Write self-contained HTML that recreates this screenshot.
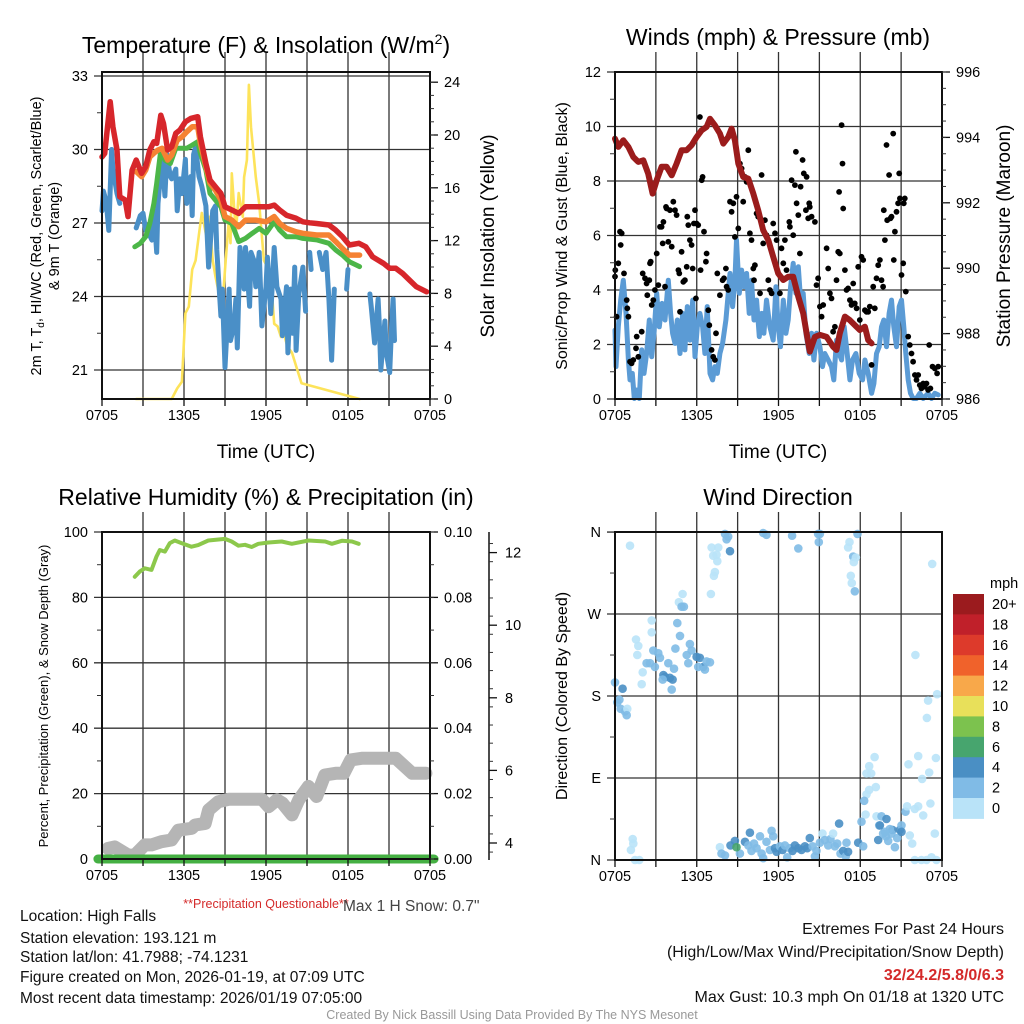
<!DOCTYPE html>
<html><head><meta charset="utf-8"><style>
html,body{margin:0;padding:0;background:#fff;}
svg{display:block;font-family:"Liberation Sans",Arial,sans-serif;}
</style></head><body>
<svg id="fig" width="1024" height="1024" viewBox="0 0 1024 1024" xmlns="http://www.w3.org/2000/svg">
<rect width="1024" height="1024" fill="#fff"/>
<g id="layer-grid"></g>
<g id="layer-data"></g>
<g id="layer-axes"></g>
<!-- titles -->
<text x="266" y="53" font-size="23" text-anchor="middle">Temperature (F) &amp; Insolation (W/m<tspan font-size="14" dy="-9">2</tspan><tspan dy="9">)</tspan></text>
<text x="778" y="45" font-size="23" text-anchor="middle">Winds (mph) &amp; Pressure (mb)</text>
<text x="266" y="505" font-size="23" text-anchor="middle">Relative Humidity (%) &amp; Precipitation (in)</text>
<text x="778" y="505" font-size="23" text-anchor="middle">Wind Direction</text>
<!-- axis titles -->
<text x="266" y="458" font-size="19" text-anchor="middle">Time (UTC)</text>
<text x="778" y="458" font-size="19" text-anchor="middle">Time (UTC)</text>
<text transform="translate(41,236) rotate(-90)" font-size="14.5" text-anchor="middle">2m T, T<tspan font-size="10" dy="3">d</tspan><tspan dy="-3">, HI/WC (Red, Green, Scarlet/Blue)</tspan></text>
<text transform="translate(59,236) rotate(-90)" font-size="14.5" text-anchor="middle">&amp; 9m T (Orange)</text>
<text transform="translate(494,236) rotate(-90)" font-size="19" text-anchor="middle">Solar Insolation (Yellow)</text>
<text transform="translate(567,236) rotate(-90)" font-size="16" text-anchor="middle">Sonic/Prop Wind &amp; Gust (Blue, Black)</text>
<text transform="translate(1010,236) rotate(-90)" font-size="19" text-anchor="middle">Station Pressure (Maroon)</text>
<text transform="translate(48,696) rotate(-90)" font-size="13" text-anchor="middle">Percent, Precipitation (Green), &amp; Snow Depth (Gray)</text>
<text transform="translate(567,696) rotate(-90)" font-size="16" text-anchor="middle">Direction (Colored By Speed)</text>
<!-- bottom text -->
<text x="266" y="908" font-size="12.5" fill="#d42a2a" text-anchor="middle">**Precipitation Questionable**</text>
<text x="343" y="911" font-size="15.5" fill="#444">Max 1 H Snow: 0.7"</text>
<g font-size="15.5" fill="#111">
<text x="20" y="921">Location: High Falls</text>
<text x="20" y="943">Station elevation: 193.121 m</text>
<text x="20" y="962">Station lat/lon: 41.7988; -74.1231</text>
<text x="20" y="982">Figure created on Mon, 2026-01-19, at 07:09 UTC</text>
<text x="20" y="1003">Most recent data timestamp: 2026/01/19 07:05:00</text>
</g>
<g font-size="16" fill="#111" text-anchor="end">
<text x="1004" y="934">Extremes For Past 24 Hours</text>
<text x="1004" y="957">(High/Low/Max Wind/Precipitation/Snow Depth)</text>
<text x="1004" y="980" fill="#d42a2a" font-weight="bold">32/24.2/5.8/0/6.3</text>
<text x="1004" y="1002">Max Gust: 10.3 mph On 01/18 at 1320 UTC</text>
</g>
<text x="512" y="1019" font-size="12.5" fill="#999" text-anchor="middle">Created By Nick Bassill Using Data Provided By The NYS Mesonet</text>
</svg>
<script>
// ---------- data ----------
const timeTickLabels = ["0705","1305","1905","0105","0705"];
const tempTicks = [21,24,27,30,33];
const insolTicks = [0,4,8,12,16,20,24];
const windTicks = [0,2,4,6,8,10,12];
const pressTicks = [986,988,990,992,994,996];
const rhTicks = [0,20,40,60,80,100];
const precipTicks = [0.00,0.02,0.04,0.06,0.08,0.10];
const snowTicks = [4,6,8,10,12];
const dirTickLabels = ["N","E","S","W","N"];
const speedBins = ["0","2","4","6","8","10","12","14","16","18","20+"];
const speedColors = ["#b9e3f8","#80bbe6","#4a8fc4","#47a56e","#7cc24e","#e8e05a","#f8a84a","#f0622b","#dd3a2b","#c0202a","#9b1b1e"];

const redHours = [0,0.2,0.6,0.8,1.1,1.3,1.7,1.9,2.2,2.5,2.9,3.2,3.5,3.8,4.0,4.3,4.5,4.8,5.1,5.4,5.7,6.1,6.5,7.0,7.2,7.6,7.9,8.3,8.7,9.0,9.5,10.0,10.5,11.25,11.7,12.2,12.6,13.0,13.5,14.2,14.7,15.2,15.7,16.6,17.1,17.6,18.1,18.8,19.3,19.8,20.6,21.05,21.5,22.0,22.5,23.0,23.75];
const redTemps = [29.7,29.84,31.95,30.93,29.98,28.07,27.94,27.26,29.16,29.57,29.03,29.3,29.98,30.32,30.25,31.4,31.06,29.98,30.11,30.66,30.79,31.13,31.27,31.34,30.52,29.43,28.75,28.48,28.21,27.66,27.53,27.39,27.66,27.66,27.66,27.66,27.73,27.53,27.32,27.19,27.05,27.01,26.98,26.92,26.71,26.44,26.1,26.17,26.03,25.62,25.35,25.15,25.15,24.94,24.67,24.4,24.19];
const orangeHours = [2.5,2.9,3.2,3.5,3.9,4.1,4.4,4.8,5.1,5.5,5.86,6.2,6.6,7.0,7.2,7.6,7.9,8.3,8.7,9.0,9.5,10.0,10.5,11.25,12.0,12.6,13.0,13.5,14.2,14.7,15.7,16.6,17.1,17.6,18.1,18.85];
const orangeTemps = [29.1,28.89,29.16,29.7,29.9,29.98,30.05,29.57,29.77,30.38,30.52,30.72,30.93,30.93,30.25,29.3,28.62,28.34,27.94,27.26,27.12,26.85,27.12,27.12,27.05,27.26,26.98,26.78,26.64,26.58,26.51,26.51,26.24,25.96,25.69,25.69];
const greenHours = [2.4,2.8,3.2,3.5,3.8,4.0,4.3,4.6,5.0,5.4,5.86,6.2,6.6,7.0,7.2,7.6,7.9,8.3,8.7,9.0,9.5,10.0,10.5,11.0,11.5,12.0,12.6,13.0,13.5,14.2,14.7,15.7,16.6,17.1,17.6,18.1,18.85];
const greenTemps = [26.03,26.17,26.44,26.98,27.8,28.62,29.98,29.57,29.43,30.05,30.05,30.05,30.18,30.32,29.84,29.16,28.21,27.94,27.66,27.12,26.98,26.24,26.37,26.58,26.78,26.58,27.05,26.71,26.44,26.44,26.37,26.31,26.17,25.9,25.69,25.42,25.22];
const blueHours = [0.0,0.1,0.3,0.5,0.7,0.8,1.1,1.3,1.6,2.5,2.8,3.0,3.2,3.4,3.65,3.8,4.0,4.1,4.4,4.6,4.75,5.0,5.1,5.4,5.5,5.7,5.85,6.1,6.2,6.5,6.6,6.7,6.85,7.1,7.3,7.6,7.8,8.1,8.3,8.4,8.7,8.8,9.0,9.3,9.4,9.65,9.8,9.9,10.1,10.4,10.5,10.8,10.9,11.1,11.25,11.5,11.7,12.0,12.1,12.35,12.6,12.8,13.1,13.2,13.5,13.6,13.8,13.95,14.1,14.2,14.4,14.7,14.9,15.05,15.2,15.3,15.6,15.9,16.15,16.4,16.6,16.8,17.0,17.5,17.9,18.0,18.8,19.6,19.7,19.95,20.2,20.3,20.4,20.7,20.8,21.05,21.2,21.3,21.4];
const blueTemps = [27.5,28.3,27.9,26.7,30.0,29.2,28.2,27.8,null,26.8,27.3,27.4,26.7,26.6,26.3,27.5,25.8,27.8,29.7,28.1,29.8,28.9,28.8,29.2,27.5,28.8,28.2,29.6,27.8,28.9,27.3,29.8,30.1,28.9,28.5,27.7,25.2,27.5,27.7,25.9,23.2,24.3,21.1,24.3,22.2,22.8,23.9,21.9,26.0,24.3,26.0,23.6,25.8,25.5,24.4,25.8,22.8,24.4,25.6,23.3,26.0,24.4,23.9,22.4,24.4,21.7,24.3,22.5,25.2,21.8,24.1,25.2,23.4,null,25.8,25.1,null,25.8,25.1,25.8,23.9,21.4,24.3,null,24.3,25.1,null,24.1,23.6,22.1,23.9,22.8,21.0,23.0,21.7,20.9,22.9,23.9,22.2];
const solarHours = [2.5,5.1,5.5,5.85,6.1,6.35,6.6,6.85,7.1,7.3,7.6,7.85,8.1,8.3,8.55,8.8,9.05,9.3,9.4,9.5,9.8,10.0,10.3,10.4,10.6,10.75,10.9,11.25,11.5,11.85,12.1,12.35,12.6,12.85,13.1,13.3,13.55,13.9,14.2,14.6,18.85];
const solarValues = [0,0,0.8,1.3,6.5,7.0,9.8,10.5,12.5,14.1,12.5,13.8,10.5,9.3,8.0,7.0,10.5,13.8,11.8,17.1,12.5,15.6,13.8,16.8,18.1,23.8,20.6,16.8,14.8,10.5,10.0,9.3,5.7,5.5,4.7,5.0,4.0,3.5,2.5,1.2,0];

const pressHours = [0,0.24,0.61,0.98,1.34,1.71,2.08,2.44,2.76,3.06,3.42,3.79,4.16,4.52,4.89,5.26,5.62,5.99,6.36,6.72,6.97,7.33,7.70,7.95,8.31,8.56,8.80,9.05,9.41,9.78,10.15,10.51,10.88,11.25,11.61,11.98,12.35,12.71,13.08,13.45,13.81,14.06,14.30,14.67,15.04,15.53,16.01,16.26,16.50,16.87,17.24,17.60,17.97,18.34,18.58,18.83];
const pressValues = [993.96,993.71,993.91,993.71,993.40,993.25,993.30,992.89,992.28,992.69,993.10,993.10,992.84,993.20,993.61,993.61,993.76,994.01,994.22,994.32,994.57,994.37,994.12,993.81,994.01,994.27,993.91,993.20,992.79,992.74,992.28,991.77,991.16,990.86,990.35,989.84,989.64,989.74,989.74,989.13,988.62,988.01,987.45,987.90,987.96,987.90,987.60,987.50,988.01,988.52,988.41,988.26,988.11,988.21,987.80,987.70];
const windHours = [0,0.07,0.24,0.42,0.61,0.81,0.98,1.10,1.27,1.42,1.59,1.78,1.96,2.13,2.32,2.52,2.69,2.86,3.06,3.25,3.45,3.67,3.91,4.08,4.23,4.40,4.57,4.77,4.96,5.13,5.31,5.50,5.70,5.87,6.04,6.23,6.43,6.60,6.77,6.97,7.16,7.33,7.51,7.70,7.90,8.14,8.44,8.63,8.80,8.92,9.12,9.29,9.46,9.66,9.85,10.02,10.20,10.39,10.59,10.76,10.93,11.12,11.37,11.61,11.81,11.98,12.15,12.35,12.54,12.71,12.89,13.08,13.28,13.45,13.62,13.81,14.01,14.25,14.43,14.60,14.79,15.04,15.23,15.40,15.65,15.89,16.06,16.26,16.45,16.63,16.82,17.04,17.24,17.43,17.68,17.92,18.17,18.34,18.58,18.83,19.00,19.19,19.39,19.56,19.73,19.93,20.12,20.29,20.46,20.66,20.86,21.03,21.20,21.34,21.52,21.69,21.88,22.13,22.37,22.62,22.98,23.23,23.47,23.72];
const windValues = [2.53,1.19,2.65,3.63,4.36,3.14,1.43,0.70,0.94,0.02,0.33,0.02,1.80,0.94,1.67,2.90,1.55,2.41,3.88,2.65,3.51,2.90,4.36,3.14,2.41,2.04,2.90,1.67,3.14,1.80,3.39,2.16,3.63,1.55,2.65,3.14,2.65,1.67,3.39,0.94,0.70,1.19,0.94,1.67,2.04,2.90,4.61,3.39,4.36,5.83,3.88,4.73,4.12,4.61,3.14,4.36,2.90,3.63,2.29,3.14,2.41,3.63,2.65,2.16,4.12,2.65,1.92,3.63,2.41,2.90,4.12,4.98,3.88,4.85,3.63,3.88,2.41,1.67,2.41,1.43,2.41,1.92,1.19,1.67,1.43,1.19,0.70,2.16,1.67,1.43,2.65,1.67,0.70,1.43,1.67,0.94,0.70,1.43,0.94,0.21,0.57,1.67,1.92,2.65,2.90,1.92,3.14,3.63,2.65,1.92,3.39,3.63,2.65,1.67,0.70,0.21,0.02,0.02,0.21,0.02,0.21,0.02,0.21,0.15];
const gustHours = [0,0.02,0.12,0.24,0.37,0.49,0.42,0.66,0.86,0.90,0.98,1.10,1.22,1.34,1.54,1.59,1.71,1.96,2.03,2.20,2.32,2.37,2.52,2.57,2.62,2.69,2.81,2.93,3.06,3.18,3.30,3.42,3.55,3.50,3.67,3.74,3.79,3.91,4.03,4.16,4.28,4.40,4.52,4.65,4.72,4.77,4.89,5.01,5.13,5.26,5.31,5.38,5.50,5.62,5.70,5.79,5.87,5.94,5.99,6.11,6.23,6.28,6.36,6.43,6.53,6.67,6.72,6.85,6.92,7.09,7.21,7.33,7.41,7.51,7.70,7.90,8.00,8.14,8.19,8.31,8.44,8.56,8.68,8.80,8.92,9.05,9.17,9.29,9.41,9.54,9.66,9.78,9.90,10.02,10.15,10.20,10.27,10.39,10.51,10.64,10.76,10.88,11.00,11.12,11.25,11.37,11.49,11.61,11.74,11.86,12.10,12.22,12.35,12.47,12.59,12.79,12.84,12.96,13.08,13.20,13.28,13.33,13.45,13.57,13.62,13.77,13.86,14.01,14.06,14.18,14.25,14.30,14.43,14.67,14.79,14.91,15.04,15.16,15.28,15.53,15.65,15.77,15.89,16.01,16.14,16.26,16.38,16.45,16.50,16.63,16.70,16.75,16.87,16.99,17.11,17.24,17.36,17.43,17.48,17.60,17.73,17.85,17.97,18.09,18.22,18.34,18.46,18.58,18.70,18.83,18.95,19.07,19.19,19.32,19.44,19.56,19.68,19.73,19.81,19.93,19.98,20.12,20.22,20.29,20.42,20.46,20.54,20.66,20.78,20.86,20.91,21.03,21.15,21.20,21.27,21.34,21.52,21.64,21.76,21.88,22.01,22.13,22.25,22.37,22.49,22.62,22.74,22.86,22.98,23.06,23.15,23.30,23.47,23.64,23.72];
const gustValues = [4.49,4.73,3.02,4.98,6.14,6.08,5.65,4.61,3.63,3.33,3.02,1.37,1.31,1.43,1.86,2.29,1.55,2.47,4.61,4.43,4.24,3.81,4.36,4.98,5.04,3.45,3.63,4.00,5.34,4.18,6.32,6.32,6.50,5.71,4.12,7.05,6.99,5.77,6.93,5.59,7.24,6.93,6.75,4.73,4.61,3.20,5.40,4.30,4.36,4.85,6.69,6.38,5.83,5.65,4.79,6.44,6.93,3.69,6.44,6.38,10.35,4.73,8.03,8.15,6.14,5.04,5.34,3.26,2.71,1.80,1.55,1.43,2.41,4.61,3.81,4.36,4.43,4.79,4.12,4.00,7.24,6.87,7.18,5.95,7.42,6.26,8.64,8.46,7.24,8.15,7.97,9.13,6.08,5.83,4.79,4.36,4.91,6.81,6.69,3.88,8.22,5.71,6.56,6.01,4.36,4.00,3.88,6.44,6.08,5.83,3.88,5.53,4.98,5.83,4.73,6.50,6.32,8.03,6.01,7.85,9.07,7.18,6.75,5.34,7.79,8.77,8.28,6.93,8.15,6.63,7.18,7.05,6.69,6.50,4.18,4.43,3.39,3.02,3.45,5.53,4.79,3.88,3.69,2.47,2.65,4.36,5.40,7.60,5.34,10.05,8.64,6.99,4.73,4.00,4.06,3.63,3.45,3.51,4.24,3.51,3.33,4.85,2.90,5.22,5.10,3.26,3.20,3.20,3.39,1.25,4.12,3.33,4.43,4.91,5.10,4.36,4.12,6.93,5.83,9.32,6.56,8.22,6.63,6.69,9.74,5.10,6.14,6.87,7.18,8.28,7.36,4.55,4.98,7.18,7.36,3.94,2.29,1.98,1.67,1.37,0.88,0.70,0.88,0.51,0.39,0.57,0.45,0.57,0.33,1.98,0.39,1.19,1.12,0.94,1.19];

const rhHours = [2.40,2.76,3.13,3.62,3.99,4.23,4.60,4.96,5.33,5.82,6.55,7.04,7.78,9.0,9.49,9.98,10.46,10.95,11.44,12.18,13.15,13.89,15.11,16.33,16.82,17.55,18.29,18.78];
const rhValues = [86.3,87.9,88.9,88.4,92.5,94.5,94.0,96.6,97.4,96.6,95.5,96.0,97.4,97.9,97.1,95.8,96.1,95.4,96.4,96.8,97.1,96.4,97.4,97.1,96.4,97.3,97.1,96.4];
const snowHours = [0.44,0.93,1.91,2.40,3.13,3.62,4.35,5.09,5.58,6.57,6.81,7.55,7.8,8.5,9.3,11.7,12.2,12.8,13.2,13.9,14.4,15.1,15.7,16.3,17.1,17.7,18.2,19.0,21.5,22.7,23.7];
const snowValues = [3.2,3.7,1.2,1.2,4.3,4.3,5.3,5.8,8.8,9.4,10.4,10.9,15.0,17.5,18.3,18.3,16.0,18.1,17.1,13.5,18.1,22.2,19.1,25.7,26.2,26.2,30.3,30.8,30.8,26.2,26.2];
const precipHours = [-0.3,24.3];
const precipValues = [0,0];

const dirHours = [1.10,0.0,0.56,0.32,0.17,0.42,0.73,0.90,0.86,1.54,1.71,1.64,2.69,2.69,1.96,2.03,2.32,2.81,3.18,2.93,2.57,3.30,3.55,3.67,4.03,4.23,3.91,4.16,3.50,4.33,4.43,4.57,4.77,4.69,4.96,4.89,5.06,5.26,5.38,5.50,5.62,5.99,6.23,6.48,6.72,6.60,6.11,6.97,7.04,7.26,7.33,7.21,7.51,7.46,7.09,7.58,8.07,8.31,8.19,8.44,10.88,11.12,13.0,13.45,14.91,15.04,14.96,17.8,17.21,17.11,17.48,17.68,17.53,17.31,17.38,17.60,23.28,22.05,23.64,22.98,22.89,22.25,23.55,21.54,23.06,22.54,19.05,18.66,18.80,18.46,19.14,18.66,18.46,18.29,18.39,18.09,19.19,19.56,19.93,19.39,20.37,20.90,21.32,21.44,22.25,22.0,22.62,23.15,21.03,21.64,21.81,23.47,1.30,1.34,1.17,1.47,1.78,22.0,22.49,22.86,23.23,23.59,7.70,7.82,8.07,8.48,8.80,9.17,9.54,9.78,9.90,10.02,10.20,10.39,10.64,10.76,10.88,11.12,11.37,11.49,11.61,11.74,11.86,12.10,12.30,12.47,12.64,12.84,13.03,13.20,13.45,13.69,13.94,14.11,14.30,14.50,14.67,14.79,15.04,15.23,15.40,15.65,15.82,16.01,16.14,16.31,16.45,16.55,16.75,16.94,16.99,17.11,17.85,18.22,19.32,19.68,19.88,20.05,20.29,20.54,20.71,21.03,20.17,19.80,19.44,8.92];
const dirDegrees = [345,195,188,176,173,166,163,166,159,242,235,225,263,250,193,206,216,230,227,212,216,222,203,201,200,198,216,187,198,210,232,260,246,283,292,278,278,225,216,237,230,223,222,212,218,209,212,217,292,312,316,334,328,335,343,343,358,355,352,339,359,357,356,342,358,358,349,358,349,343,333,332,327,312,304,295,325,225,182,175,156,114,112,105,96,89,113,103,95,95,80,77,72,65,50,42,48,48,45,38,33,33,53,59,59,56,49,62,38,27,18,29,23,18,11,0,0,0,0,0,3,0,14,7,5,16,21,7,20,16,30,10,18,13,26,7,2,20,11,32,26,13,9,15,11,16,3,13,10,16,13,11,15,13,24,15,4,10,19,29,22,16,23,29,15,18,40,7,10,4,19,9,19,15,22,29,26,21,29,14,24,31,34,31,38,14];
const dirSpeeds = [1,3,5,3,3,3,3,1,3,1,1,1,1,1,1,1,3,3,3,3,3,3,5,5,5,5,3,3,3,3,3,3,3,1,1,3,3,3,3,3,3,5,5,5,3,3,3,3,1,1,1,1,1,1,1,1,3,3,3,5,3,3,3,3,3,3,3,3,1,1,3,1,1,1,1,3,1,1,1,1,1,1,1,1,1,1,1,1,1,1,1,1,1,3,1,3,1,3,5,3,5,5,3,1,1,1,1,1,3,1,1,1,1,1,1,1,1,1,1,1,1,1,1,3,3,5,5,3,5,3,5,3,3,3,3,3,3,3,3,3,3,5,5,3,5,3,3,3,5,5,5,5,5,5,5,3,3,3,3,1,3,3,3,1,3,3,5,3,5,3,3,5,5,3,5,3,3,3,3,3,3,5,3,3,5,7];

// ---------- helpers ----------
const NS = "http://www.w3.org/2000/svg";
const gGrid = document.getElementById("layer-grid");
const gData = document.getElementById("layer-data");
const gAxes = document.getElementById("layer-axes");
function mk(tag, attrs, parent){ const e=document.createElementNS(NS,tag); for(const k in attrs) e.setAttribute(k,attrs[k]); parent.appendChild(e); return e; }
function txt(s, attrs, parent){ const e=mk("text",attrs,parent); e.textContent=s; return e; }

const P1={x0:102,x1:430,y0:72,y1:399};
const P2={x0:615,x1:942,y0:72,y1:399};
const P3={x0:102,x1:430,y0:532,y1:859};
const P4={x0:615,x1:942,y0:532,y1:860};
function xs(P,h){ return P.x0 + h*(P.x1-P.x0)/24; }
const yTemp = v => 76 + (33-v)*24.5;
const ySolar = v => 399 - v*13.2;
const yWind = v => 399 - v*27.25;
const yPress = v => 399 - (v-986)*32.7;
const yRH = v => 859 - v*3.27;
const yPrecip = v => 859 - v*3270;
const ySnow = v => 843 - (v-4)*36.3;
const yDir = v => 860 - v*0.911;

function linePath(P, hours, vals, yf){
  let d="", pen=false;
  for(let i=0;i<hours.length;i++){
    if(vals[i]===null){ pen=false; continue; }
    const x=xs(P,hours[i]).toFixed(1), y=yf(vals[i]).toFixed(1);
    d += (pen?"L":"M")+x+","+y; pen=true;
  }
  return d;
}
function series(P, hours, vals, yf, color, w, name){
  const p=mk("path",{d:linePath(P,hours,vals,yf),fill:"none",stroke:color,"stroke-width":w,"stroke-linejoin":"round","stroke-linecap":"round"},gData);
  
  
  return p;
}
function frame(P, name){
  for(let h=3;h<24;h+=3){
    const l=mk("line",{x1:xs(P,h),x2:xs(P,h),y1:P.y0-20,y2:P.y1,stroke:"#333","stroke-width":1.3},gGrid);
    
    
  }
  const r=mk("rect",{x:P.x0,y:P.y0,width:P.x1-P.x0,height:P.y1-P.y0,fill:"none",stroke:"#111","stroke-width":2},gAxes);
  
  
  for(let h=0;h<=24;h+=3){
    mk("line",{x1:xs(P,h),x2:xs(P,h),y1:P.y1,y2:P.y1+7,stroke:"#111","stroke-width":1.3},gAxes);
  }
  timeTickLabels.forEach((s,i)=>{
    const t=txt(s,{x:xs(P,i*6),y:P.y1+21,"font-size":14.5,"text-anchor":"middle"},gAxes);
    
    
  });
}
function hgrid(P, ticks, yf, name){
  ticks.forEach(v=>{
    const y=yf(v);
    const l=mk("line",{x1:P.x0-8,x2:P.x1,y1:y,y2:y,stroke:"#333","stroke-width":1.3},gGrid);
    
    
  });
}
function leftLabels(P, ticks, labels, yf, name, minorStep){
  ticks.forEach((v,i)=>{
    const t=txt(labels[i],{x:P.x0-14,y:yf(v)+5,"font-size":14.5,"text-anchor":"end"},gAxes);
    
    
  });
  if(minorStep){
    for(let v=ticks[0]+minorStep; v<ticks[ticks.length-1]; v+=minorStep*2){
      mk("line",{x1:P.x0-5,x2:P.x0,y1:yf(v),y2:yf(v),stroke:"#333","stroke-width":1},gAxes);
    }
  }
}
function rightAxis(P, ticks, labels, yf, name, minorStep, xoff){
  const x=P.x1+(xoff||0);
  ticks.forEach((v,i)=>{
    mk("line",{x1:x,x2:x+8,y1:yf(v),y2:yf(v),stroke:"#111","stroke-width":1.3},gAxes);
    const t=txt(labels[i],{x:x+14,y:yf(v)+5,"font-size":14.5},gAxes);
    
    
  });
  if(minorStep){
    for(let v=ticks[0]; v<=ticks[ticks.length-1]+1e-9; v+=minorStep){
      mk("line",{x1:x,x2:x+4,y1:yf(v),y2:yf(v),stroke:"#333","stroke-width":1},gAxes);
    }
  }
}

// ---------- panel 1: temperature ----------
frame(P1,"temp");
hgrid(P1,tempTicks,yTemp,"temp");
leftLabels(P1,tempTicks,tempTicks.map(String),yTemp,"temp",1.5);
rightAxis(P1,insolTicks,insolTicks.map(String),ySolar,"insolation",1);
series(P1,solarHours,solarValues,ySolar,"#fde35a",2.6,"insolation-line");
series(P1,blueHours,blueTemps,yTemp,"#4a8fc7",5,"windchill-line");
series(P1,greenHours,greenTemps,yTemp,"#4cb648",5,"dewpoint-line");
series(P1,orangeHours,orangeTemps,yTemp,"#f58233",5.5,"temp-9m-line");
series(P1,redHours,redTemps,yTemp,"#d7262b",5.5,"temp-2m-line");

// ---------- panel 2: winds ----------
frame(P2,"wind");
hgrid(P2,windTicks,yWind,"wind");
leftLabels(P2,windTicks,windTicks.map(String),yWind,"wind",1);
rightAxis(P2,pressTicks,pressTicks.map(String),yPress,"pressure",0.5);
series(P2,windHours,windValues,yWind,"#5b9bd5",5,"wind-speed-line");
gustHours.forEach((h,i)=>{
  const c=mk("circle",{cx:xs(P2,h).toFixed(1),cy:yWind(gustValues[i]).toFixed(1),r:2.9,fill:"#000"},gData);
  
  
});
series(P2,pressHours,pressValues,yPress,"#9b1c1c",6,"pressure-line");

// ---------- panel 3: humidity ----------
frame(P3,"rh");
hgrid(P3,rhTicks,yRH,"rh");
leftLabels(P3,rhTicks,rhTicks.map(String),yRH,"rh",10);
rightAxis(P3,precipTicks,precipTicks.map(v=>v.toFixed(2)),yPrecip,"precip",0.01);
mk("line",{x1:489,x2:489,y1:532,y2:860,stroke:"#111","stroke-width":1.5},gAxes);
snowTicks.forEach(v=>{
  mk("line",{x1:489,x2:497,y1:ySnow(v),y2:ySnow(v),stroke:"#111","stroke-width":1.3},gAxes);
  const t=txt(String(v),{x:505,y:ySnow(v)+5,"font-size":14.5},gAxes);
  
  
});
for(let v=3.75; v<12.6; v+=0.5){ mk("line",{x1:489,x2:493,y1:ySnow(v),y2:ySnow(v),stroke:"#333","stroke-width":1},gAxes); }
series(P3,snowHours,snowValues,yRH,"#b5b5b5",13,"snow-depth-line");
series(P3,rhHours,rhValues,yRH,"#8cc84b",4,"rh-line");
series(P3,precipHours,precipValues,yPrecip,"#45b043",9,"precip-line");

// ---------- panel 4: wind direction ----------
frame(P4,"dir");
const dirTicks=[0,90,180,270,360];
hgrid(P4,dirTicks,yDir,"dir");
leftLabels(P4,dirTicks,dirTickLabels,yDir,"dir",45);
dirHours.forEach((h,i)=>{
  const bin=Math.min(10,Math.floor(dirSpeeds[i]/2));
  const c=mk("circle",{cx:xs(P4,h).toFixed(1),cy:yDir(dirDegrees[i]).toFixed(1),r:4.3,fill:speedColors[bin],opacity:0.9},gData);
  
  
});
const cbTop=594, cbH=20.4;
txt("mph",{x:990,y:588,"font-size":14.5},gAxes);
speedBins.forEach((lab,i)=>{
  const k=10-i;
  const r=mk("rect",{x:953,y:cbTop+i*cbH,width:31,height:cbH+0.5,fill:speedColors[k]},gAxes);
  
  
  const t=txt(speedBins[k],{x:992,y:cbTop+i*cbH+15,"font-size":14.5},gAxes);
  
  
});
</script>
</body></html>
